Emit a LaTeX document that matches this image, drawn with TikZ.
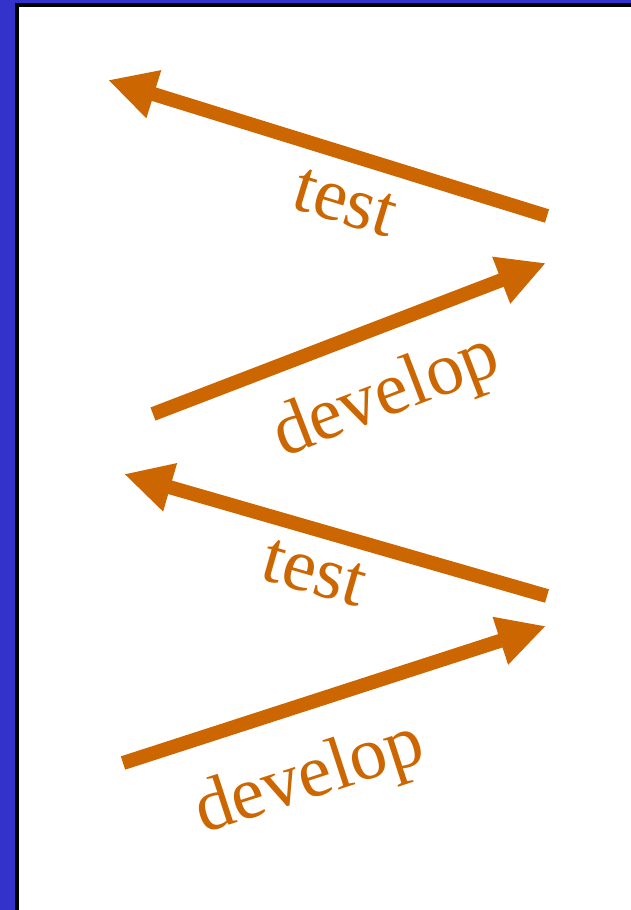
\documentclass[tikz,border=0pt]{standalone}
\usepackage{fontspec}
\setmainfont{Liberation Serif}
\usetikzlibrary{arrows.meta}
\definecolor{frameblue}{RGB}{51,51,204}
\definecolor{arroworange}{RGB}{204,102,0}
\tikzset{
  flow/.style={draw=arroworange, line width=10.5pt,
    -{Triangle[length=36pt,width=35pt]}},
  lbl/.style={text=arroworange, font=\fontsize{56}{56}\selectfont, inner sep=0pt}
}
\begin{document}
\begin{tikzpicture}[x=0.75pt,y=-0.75pt]
\useasboundingbox (0,0) rectangle (631,910);
\clip (0,0) rectangle (631,910);
\fill[frameblue] (0,0) rectangle (631,910);
\fill[black] (15,3) rectangle (640,920);
\fill[white] (19,7) rectangle (640,920);
% arrow end points
\coordinate (a1s) at (547,216); \coordinate (a1e) at (108,80);
\coordinate (a2s) at (153,414); \coordinate (a2e) at (546,263);
\coordinate (a3s) at (547,596); \coordinate (a3e) at (124,474);
\coordinate (a4s) at (123,763); \coordinate (a4e) at (546,626);
\draw[flow] (a1s) -- (a1e);
\draw[flow] (a2s) -- (a2e);
\draw[flow] (a3s) -- (a3e);
\draw[flow] (a4s) -- (a4e);
\node[lbl, rotate=-17] (t1) at (345,203) {test};
\node[lbl, rotate=21] (d1) at (387,398) {develop};
\node[lbl, rotate=-16] (t2) at (314,573) {test};
\node[lbl, rotate=18] (d2) at (310,780) {develop};
\end{tikzpicture}
\end{document}
